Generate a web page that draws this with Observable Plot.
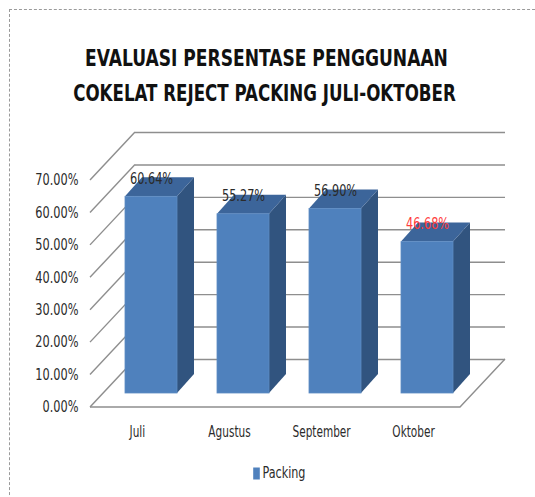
<!DOCTYPE html>
<html>
<head>
<meta charset="utf-8">
<script src="https://cdn.jsdelivr.net/npm/d3@7"></script>
<script src="https://cdn.jsdelivr.net/npm/@observablehq/plot@0.6"></script>
<style>
  html, body { margin: 0; padding: 0; background: #fff; }
  #wrap { position: relative; width: 535px; height: 497px; overflow: hidden; }
  #border { position: absolute; left: 9px; top: 9px; width: 540px; height: 500px;
            border-top: 1px dashed #9a9a9a; border-left: 1px dashed #9a9a9a; }
  #chart { position: absolute; left: 0; top: 0; }
  svg { font-family: "Liberation Sans Narrow", "DejaVu Sans Condensed", "Arial Narrow", sans-serif; font-stretch: condensed; }
</style>
</head>
<body>
<div id="wrap"><div id="border"></div><div id="chart"></div></div>
<script>
// ---- data ----
const titleLines = ["EVALUASI PERSENTASE PENGGUNAAN", "COKELAT REJECT PACKING JULI-OKTOBER"];
const months = ["Juli", "Agustus", "September", "Oktober"];
const values = [0.6064, 0.5527, 0.5690, 0.4668];
const yTicks = [0, 0.1, 0.2, 0.3, 0.4, 0.5, 0.6, 0.7];
const seriesName = "Packing";
const highlightMonth = "Oktober";

const data = months.map((m, i) => ({month: m, value: values[i]}));
const pct = d3.format(".2%");

// 3D geometry (pixel offsets relative to the back wall)
const FLOOR = [-45, 48];   // front edge of floor
const BAR_F = [-31, 34];   // front face of bars
const BAR_B = [-14, 15];   // back face of bars

const gridColor = "#8e8e8e";
const textColor = "#2b2b2b";

// tall narrow legend swatch
const swatchSymbol = {draw(ctx) { ctx.rect(-3.3, -6, 6.6, 12); }};

function depthFrame(index, scales, values, dims) {
  const g = d3.create("svg:g").attr("fill", "none").attr("stroke", gridColor).attr("stroke-width", 1.4);
  const L = dims.marginLeft, R = dims.width - dims.marginRight;
  for (const i of index) {
    const yy = values.y[i];
    g.append("line").attr("x1", L + FLOOR[0]).attr("y1", yy + FLOOR[1]).attr("x2", L).attr("y2", yy);
  }
  const y0 = scales.y(0);
  g.append("path").attr("d", `M${L + FLOOR[0]},${y0 + FLOOR[1]}H${R + FLOOR[0]}L${R},${y0}`);
  return g.node();
}

function bars3d(index, scales, values, dims) {
  const g = d3.create("svg:g");
  const bw = scales.x.bandwidth ? scales.x.bandwidth() : scales.scales.x.bandwidth;
  const y0 = scales.y(0);
  const ox = BAR_B[0] - BAR_F[0], oy = BAR_B[1] - BAR_F[1];
  for (const i of index) {
    const x0 = values.x[i] + BAR_F[0], x1 = x0 + bw;
    const yt = values.y2[i] + BAR_F[1], yb = y0 + BAR_F[1];
    g.append("path").attr("fill", "#31547f")
      .attr("d", `M${x1},${yb}V${yt}L${x1 + ox},${yt + oy}V${yb + oy}Z`);
    g.append("path").attr("fill", "#3c659a")
      .attr("d", `M${x0},${yt}H${x1}L${x1 + ox},${yt + oy}H${x0 + ox}Z`);
    g.append("rect").attr("fill", "#4f81bd").attr("stroke", "#5d8cc4").attr("stroke-width", 0.8)
      .attr("x", x0).attr("y", yt).attr("width", bw).attr("height", yb - yt);
  }
  return g.node();
}

const plot = Plot.plot({
  width: 535,
  height: 497,
  marginLeft: 135,
  marginRight: 30,
  marginTop: 132,
  marginBottom: 138,
  x: {domain: months, paddingInner: 0.43, paddingOuter: 0.215, axis: null},
  y: {domain: [0, 0.7], axis: null},
  marks: [
    Plot.ruleY(yTicks, {stroke: gridColor, strokeWidth: 1.4}),
    Plot.ruleY(yTicks, {y: d => d, render: depthFrame}),
    Plot.barY(data, {x: "month", y: "value", render: bars3d}),
    Plot.text(data, {
      x: "month", y: "value", text: d => pct(d.value), className: "vlabel",
      dx: BAR_F[0], dy: BAR_F[1] - 18, fontSize: 15,
      fill: d => d.month === highlightMonth ? "#ff3c3c" : textColor
    }),
    Plot.axisY(yTicks, {
      tickSize: 0, tickPadding: 12, dx: FLOOR[0], dy: FLOOR[1],
      tickFormat: pct, fontSize: 15, fill: textColor, label: null
    }),
    Plot.axisX({
      tickSize: 0, tickPadding: 19, dx: FLOOR[0], dy: FLOOR[1],
      fontSize: 15, fill: textColor, label: null
    }),
    Plot.text([titleLines[0]], {frameAnchor: "top", text: d => d, dx: -54, dy: -74, className: "ttl1",
      fontSize: 23, fontWeight: "bold", fill: "#111", lineAnchor: "middle"}),
    Plot.text([titleLines[1]], {frameAnchor: "top", text: d => d, dx: -56, dy: -39, className: "ttl2",
      fontSize: 23, fontWeight: "bold", fill: "#111", lineAnchor: "middle"}),
    Plot.dot([seriesName], {frameAnchor: "bottom", symbol: swatchSymbol, r: 4,
      fill: "#4f81bd", stroke: "none", dx: -64, dy: 114}),
    Plot.text([seriesName], {frameAnchor: "bottom", text: d => d, textAnchor: "start", className: "lgd",
      dx: -58, dy: 114, fontSize: 15, fill: textColor, lineAnchor: "middle"})
  ]
});
document.getElementById("chart").appendChild(plot);

// narrow each text horizontally (about its anchor) to mimic the condensed look of the reference
function squeeze(node, sx) {
  if (!node) return;
  const b = node.getBBox();
  const anchor = getComputedStyle(node).textAnchor;
  const ax = anchor === "start" ? b.x : anchor === "end" ? b.x + b.width : b.x + b.width / 2;
  const t = node.getAttribute("transform") || "";
  node.setAttribute("transform", `${t} translate(${ax.toFixed(2)},0) scale(${sx.toFixed(4)},1) translate(${(-ax).toFixed(2)},0)`.trim());
}
const svg = plot.tagName === "svg" ? plot : plot.querySelector("svg");
const t1 = svg.querySelector(".ttl1 text"), t2 = svg.querySelector(".ttl2 text");
if (t1) squeeze(t1, 363 / t1.getComputedTextLength());
if (t2) squeeze(t2, 383 / t2.getComputedTextLength());
svg.querySelectorAll('[aria-label="y-axis tick label"] text').forEach(n => squeeze(n, 0.84));
svg.querySelectorAll(".vlabel text").forEach(n => squeeze(n, 0.84));
svg.querySelectorAll('[aria-label="x-axis tick label"] text').forEach(n => squeeze(n, 0.78));
svg.querySelectorAll(".lgd text").forEach(n => squeeze(n, 0.83));
</script>
</body>
</html>
